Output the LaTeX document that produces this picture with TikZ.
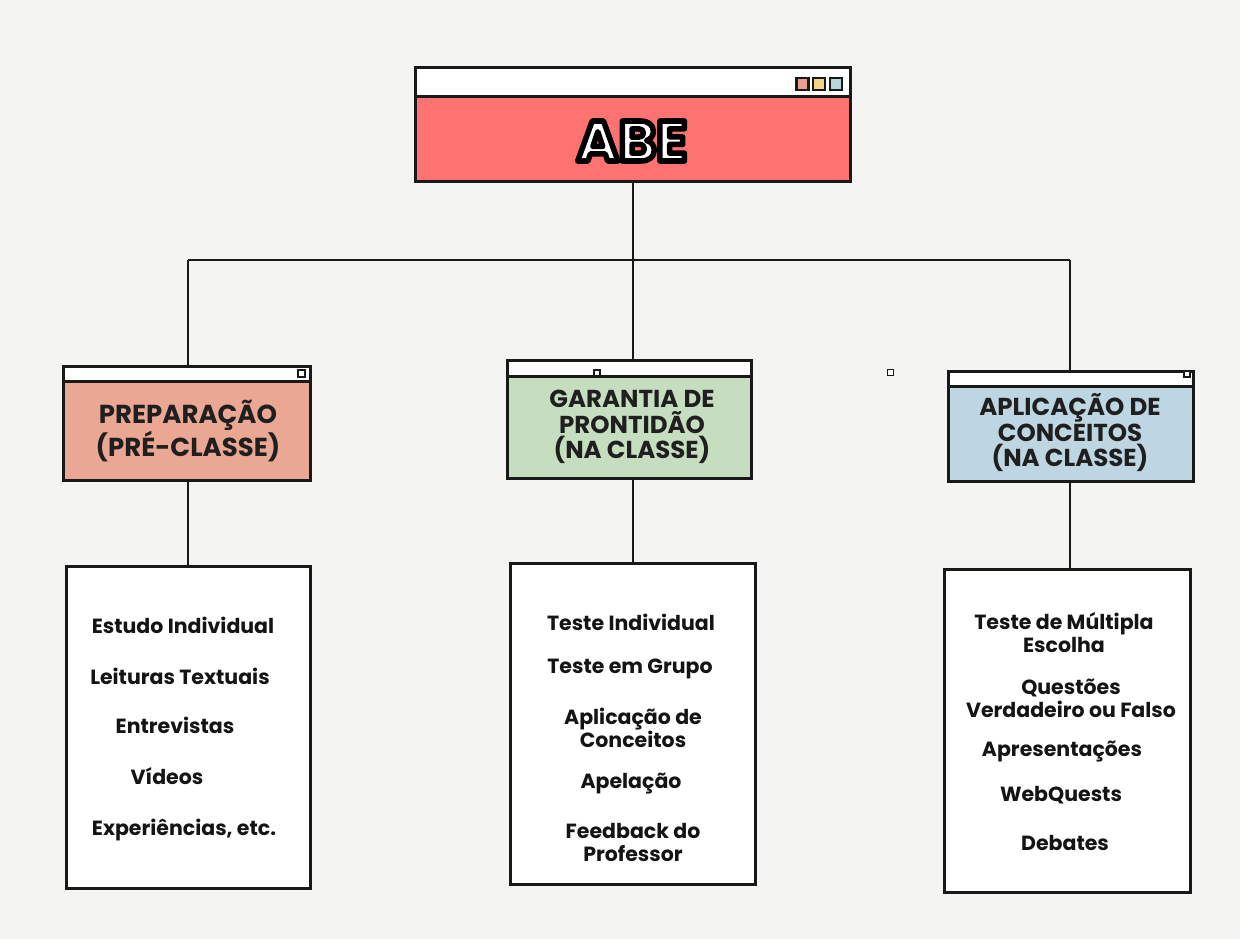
\documentclass[tikz,border=0pt]{standalone}
\usepackage{fontspec}
\usetikzlibrary{calc}
\setmainfont{Poppins}
\definecolor{paper}{RGB}{244,244,243}
\definecolor{abered}{RGB}{255,114,114}
\definecolor{salmon}{RGB}{234,167,148}
\definecolor{sage}{RGB}{198,222,191}
\definecolor{skyb}{RGB}{189,214,225}
\definecolor{sqred}{RGB}{232,160,144}
\definecolor{sqyel}{RGB}{245,212,140}
\definecolor{sqblu}{RGB}{186,212,224}
\newcommand{\outlinedtext}[1]{\special{pdf:literal direct 2 Tr 5.5 w 1 j 0 G}#1\special{pdf:literal direct 0 Tr}}
\begin{document}
\begin{tikzpicture}[x=1pt,y=-1pt,
  frame/.style={draw=black!90, line width=3pt, inner sep=0pt, outer sep=0pt},
  bar/.style={frame, fill=white},
  conn/.style={draw=black!90, line width=2.5pt},
  sq/.style={draw=black!90, line width=1.8pt, inner sep=0pt, minimum size=#1},
  head/.style={font=\bfseries\fontsize{24.5}{25.5}\selectfont, align=center, text=black!88},
  item/.style={font=\bfseries\fontsize{20.5}{23}\selectfont, align=center, text=black!92}]
\useasboundingbox (0,0) rectangle (1240,939);
\fill[paper] (0,0) rectangle (1240,939);
% top window
\node[bar, minimum width=435, minimum height=29] (abebar) at (632.5,82.5) {};
\node[frame, fill=abered, minimum width=435, minimum height=85] (abe) at (632.5,139.5) {};
\node[sq=12, line width=2.4pt, fill=sqred] (s1) at (802.5,84) {};
\node[sq=12, line width=2.4pt, fill=sqyel] (s2) at (819,84) {};
\node[sq=12, line width=2.4pt, fill=sqblu] (s3) at (836,84) {};
\node[font=\bfseries\fontsize{57}{57}\selectfont, text=white] (abet) at (632,141) {\outlinedtext{ABE}};
% category windows
\node[bar, minimum width=247, minimum height=15] (pbar) at (186.5,373.5) {};
\node[frame, fill=salmon, minimum width=247, minimum height=99] (prep) at (186.5,430.5) {};
\node[sq=7, fill=white] (ps) at (301.5,373.5) {};
\node[head, font=\bfseries\fontsize{26}{28}\selectfont] (prept) at (188,431) {PREPARAÇÃO\\(PRÉ-CLASSE)};

\node[bar, minimum width=244, minimum height=16] (gbar) at (629,368) {};
\node[frame, fill=sage, minimum width=244, minimum height=102] (gar) at (629,427) {};
\node[sq=6, fill=white] (gs) at (597,373) {};
\node[head] (gart) at (632,427) {GARANTIA DE\\PRONTIDÃO\\(NA CLASSE)};

\node[bar, minimum width=245, minimum height=15] (abar) at (1070.5,378.5) {};
\node[frame, fill=skyb, minimum width=245, minimum height=95] (apl) at (1070.5,433.5) {};
\node[sq=6, fill=white] (as) at (1187,374) {};
\node[sq=6, fill=white] (stray) at (890.5,372.5) {};
\node[head] (aplt) at (1070,433) {APLICAÇÃO DE\\CONCEITOS\\(NA CLASSE)};
% list boxes
\node[frame, fill=white, minimum width=244, minimum height=322] (lp) at (188,727) {};
\node[frame, fill=white, minimum width=245, minimum height=321] (lg) at (632.5,723.5) {};
\node[frame, fill=white, minimum width=246, minimum height=323] (la) at (1067,730.5) {};
% connectors
\coordinate (hub) at (633,260);
\coordinate (hl) at (188,260);
\coordinate (hr) at (1070,260);
\draw[conn] (abe.south -| hub) -- (hub);
\draw[conn] (hl) -- (hr);
\draw[conn] (hl) -- (hl |- pbar.north);
\draw[conn] (hub) -- (hub |- gbar.north);
\draw[conn] (hr) -- (hr |- abar.north);
\draw[conn] (prep.south -| hl) -- (hl |- lp.north);
\draw[conn] (gar.south -| hub) -- (hub |- lg.north);
\draw[conn] (apl.south -| hr) -- (hr |- la.north);
% items
\node[item] (p1) at (183,625) {Estudo Individual};
\node[item] (p2) at (180,676) {Leituras Textuais};
\node[item] (p3) at (175,725) {Entrevistas};
\node[item] (p4) at (167,776) {Vídeos};
\node[item] (p5) at (184,830) {Experiências, etc.};
\node[item] (g1) at (631,622) {Teste Individual};
\node[item] (g2) at (630,669) {Teste em Grupo};
\node[item] (g3) at (633,728) {Aplicação de\\Conceitos};
\node[item] (g4) at (631,784) {Apelação};
\node[item] (g5) at (633,842) {Feedback do\\Professor};
\node[item] (a1) at (1064,633) {Teste de Múltipla\\Escolha};
\node[item] (a2) at (1071,698) {Questões\\Verdadeiro ou Falso};
\node[item] (a3) at (1062,752) {Apresentações};
\node[item] (a4) at (1061,795) {WebQuests};
\node[item] (a5) at (1065,843) {Debates};
\end{tikzpicture}
\end{document}
